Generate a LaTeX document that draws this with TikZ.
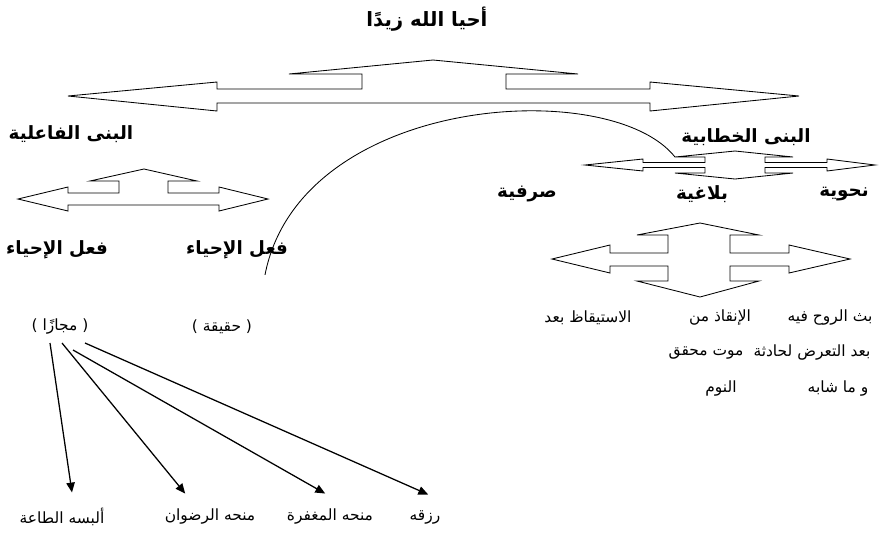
\documentclass[tikz,border=0pt]{standalone}
\usepackage{fontspec}
\usetikzlibrary{arrows.meta}
\TeXXeTstate=1
\newfontfamily\arabicfont[Script=Arabic]{DejaVu Sans}
\newfontfamily\parenfont{DejaVu Sans}

\tikzset{
    bighead/.style={font=\arabicfont\bfseries\fontsize{13}{15}\selectfont, inner sep=1pt},
    gloss/.style={font=\arabicfont\fontsize{11}{13}\selectfont, inner sep=1pt},
    block/.style={draw, line width=0.6pt, fill=white, line join=miter},
    fan/.style={-{Triangle[length=7pt,width=6pt]}, line width=0.9pt}
}

\begin{document}
\begin{tikzpicture}[x=0.025cm, y=-0.025cm]
    \useasboundingbox (0,0) rectangle (882,535);

    % Title
    \node[bighead, font=\arabicfont\bfseries\fontsize{14}{16}\selectfont] (title) at (427,19) {\beginR أحيا الله زيدًا\endR};

    % Big three-way arrow under the title
    \draw[block] (68,96) -- (217,82) -- (217,89) -- (362,89) -- (362,74) -- (289,74)
        -- (433,60) -- (578,74) -- (506,74) -- (506,89) -- (650,89) -- (650,82)
        -- (799,96) -- (650,111) -- (650,103) -- (217,103) -- (217,111) -- cycle;

    % Left branch
    \node[bighead] (faeliya) at (71,134) {\beginR البنى الفاعلية\endR};
    \draw[block] (18,199) -- (68,187) -- (68,193) -- (119,193) -- (119,181) -- (90,181)
        -- (144,169) -- (197,181) -- (168,181) -- (168,193) -- (219,193) -- (219,187)
        -- (268,199) -- (219,211) -- (219,205) -- (68,205) -- (68,211) -- cycle;
    \node[bighead] (ihyaL) at (57,250) {\beginR فعل الإحياء\endR};
    \node[bighead] (ihyaR) at (237,250) {\beginR فعل الإحياء\endR};
    \node[gloss] (majaz) at (60,327) {{\parenfont(} \beginR مجازًا\endR{} {\parenfont)}};
    \node[gloss] (haqiqa) at (222,327) {{\parenfont(} \beginR حقيقة\endR{} {\parenfont)}};

    % Right branch
    \node[bighead] (khitabiya) at (746,137) {\beginR البنى الخطابية\endR};
    \draw[block] (585,165) -- (643,159) -- (643,162.5) -- (705,162.5) -- (705,157) -- (675,157)
        -- (735,151) -- (793,157) -- (765,157) -- (765,162.5) -- (827,162.5) -- (827,159)
        -- (875,165) -- (827,171) -- (827,167.5) -- (765,167.5) -- (765,173) -- (793,173)
        -- (735,179) -- (675,173) -- (705,173) -- (705,167.5) -- (643,167.5) -- (643,171) -- cycle;
    \coordinate (hook) at (675,157);
    \node[bighead] (nahwiya) at (844,194) {\beginR نحوية\endR};
    \node[bighead] (balaghiya) at (702,194) {\beginR بلاغية\endR};
    \node[bighead] (sarfiya) at (527,194) {\beginR صرفية\endR};

    % Four-way arrow under the rhetorical level
    \draw[block] (552,259) -- (610,245) -- (610,253) -- (668,253) -- (668,235) -- (637,235)
        -- (700,223) -- (759,235) -- (730,235) -- (730,253) -- (789,253) -- (789,245)
        -- (850,259) -- (789,273) -- (789,266) -- (730,266) -- (730,281) -- (759,281)
        -- (700,297) -- (637,281) -- (668,281) -- (668,266) -- (610,266) -- (610,273) -- cycle;

    % Readings of the verb
    \node[gloss] (bath) at (830,318) {\beginR بث الروح فيه\endR};
    \node[gloss] (inqadh) at (720,318) {\beginR الإنقاذ من\endR};
    \node[gloss] (istiqadh) at (588,318) {\beginR الاستيقاظ بعد\endR};
    \node[gloss] (baad) at (812,353) {\beginR بعد التعرض لحادثة\endR};
    \node[gloss] (mawt) at (706,353) {\beginR موت محقق\endR};
    \node[gloss] (washabah) at (838,389) {\beginR و ما شابه\endR};
    \node[gloss] (nawm) at (721,389) {\beginR النوم\endR};

    % Link from the rhetorical level back to the literal verb
    \draw[line width=0.6pt] (hook) .. controls (610,75) and (300,95)
        .. ([xshift=0.7cm,yshift=-0.62cm]ihyaR.center);

    % Figurative meanings
    \node[gloss] (ilbas) at (62,517) {\beginR ألبسه الطاعة\endR};
    \node[gloss] (ridwan) at (210,517) {\beginR منحه الرضوان\endR};
    \node[gloss] (maghfira) at (330,517) {\beginR منحه المغفرة\endR};
    \node[gloss] (rizq) at (425,517) {\beginR رزقه\endR};

    \coordinate (m1) at (50,343);
    \coordinate (m2) at (62,343);
    \coordinate (m3) at (73,350);
    \coordinate (m4) at (85,343);
    \draw[fan] (m1) -- ([xshift=0.25cm,yshift=0.35cm]ilbas.north);
    \draw[fan] (m2) -- ([xshift=-0.62cm,yshift=0.35cm]ridwan.north);
    \draw[fan] (m3) -- ([xshift=-0.12cm,yshift=0.35cm]maghfira.north);
    \draw[fan] (m4) -- ([xshift=0.08cm,yshift=0.35cm]rizq.north);

\end{tikzpicture}
\end{document}
